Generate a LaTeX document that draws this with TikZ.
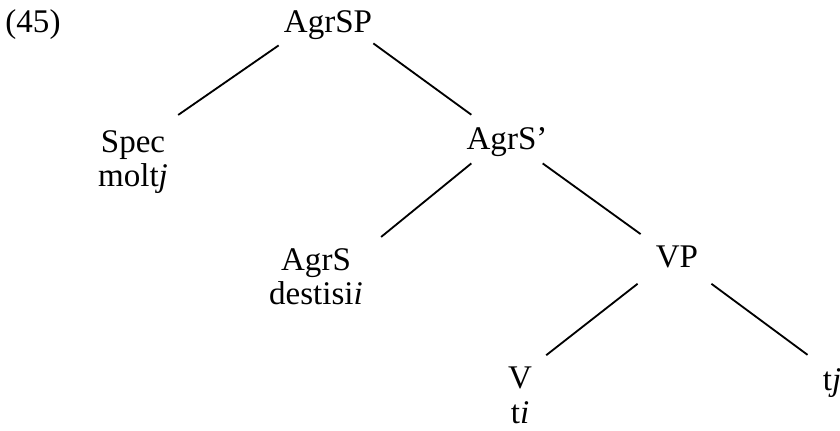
\documentclass[tikz,border=0pt]{standalone}
\usepackage{fontspec}
\setmainfont{Liberation Serif}
\begin{document}
\begin{tikzpicture}[x=0.025cm,y=-0.025cm,
        cat/.style={anchor=base,inner sep=0pt,align=center,font=\fontsize{23.5}{24.8}\selectfont},
        branch/.style={line width=1.3pt}]
        \useasboundingbox (0,0) rectangle (840,431);

        \node[cat] at (33,33) (ex-num) {(45)};
        \node[cat] at (328,33) (agrsp) {AgrSP};

        % two-line nodes sit on the baseline of their last line
        \node[cat] at (133,187) (spec) {Spec\\molt\textit{j}};
        \node[cat] at (507,150) (agrs-bar) {AgrS'};

        \node[cat] at (316,305) (agrs) {AgrS\\destisi\textit{i}};
        \node[cat] at (677,268) (vp) {VP};

        \node[cat] at (520,423) (v) {V\\t\textit{i}};
        \node[cat] at (832,390) (trace-j) {t\textit{j}};

        \draw[branch] ([shift={(-5,5)}]agrsp.south west) -- ([shift={(10,-15)}]spec.north east);
        \draw[branch] ([shift={(1,3)}]agrsp.south east) -- ([shift={(5,-13)}]agrs-bar.north west);

        \draw[branch] ([shift={(5,6)}]agrs-bar.south west) -- ([shift={(18,-11)}]agrs.north east);
        \draw[branch] ([shift={(-5,6)}]agrs-bar.south east) -- ([shift={(-15,-12)}]vp.north west);

        \draw[branch] ([shift={(-18,15)}]vp.south west) -- ([shift={(14,-11)}]v.north east);
        \draw[branch] ([shift={(13,15)}]vp.south east) -- ([shift={(-15,-13)}]trace-j.north west);
    \end{tikzpicture}
\end{document}
